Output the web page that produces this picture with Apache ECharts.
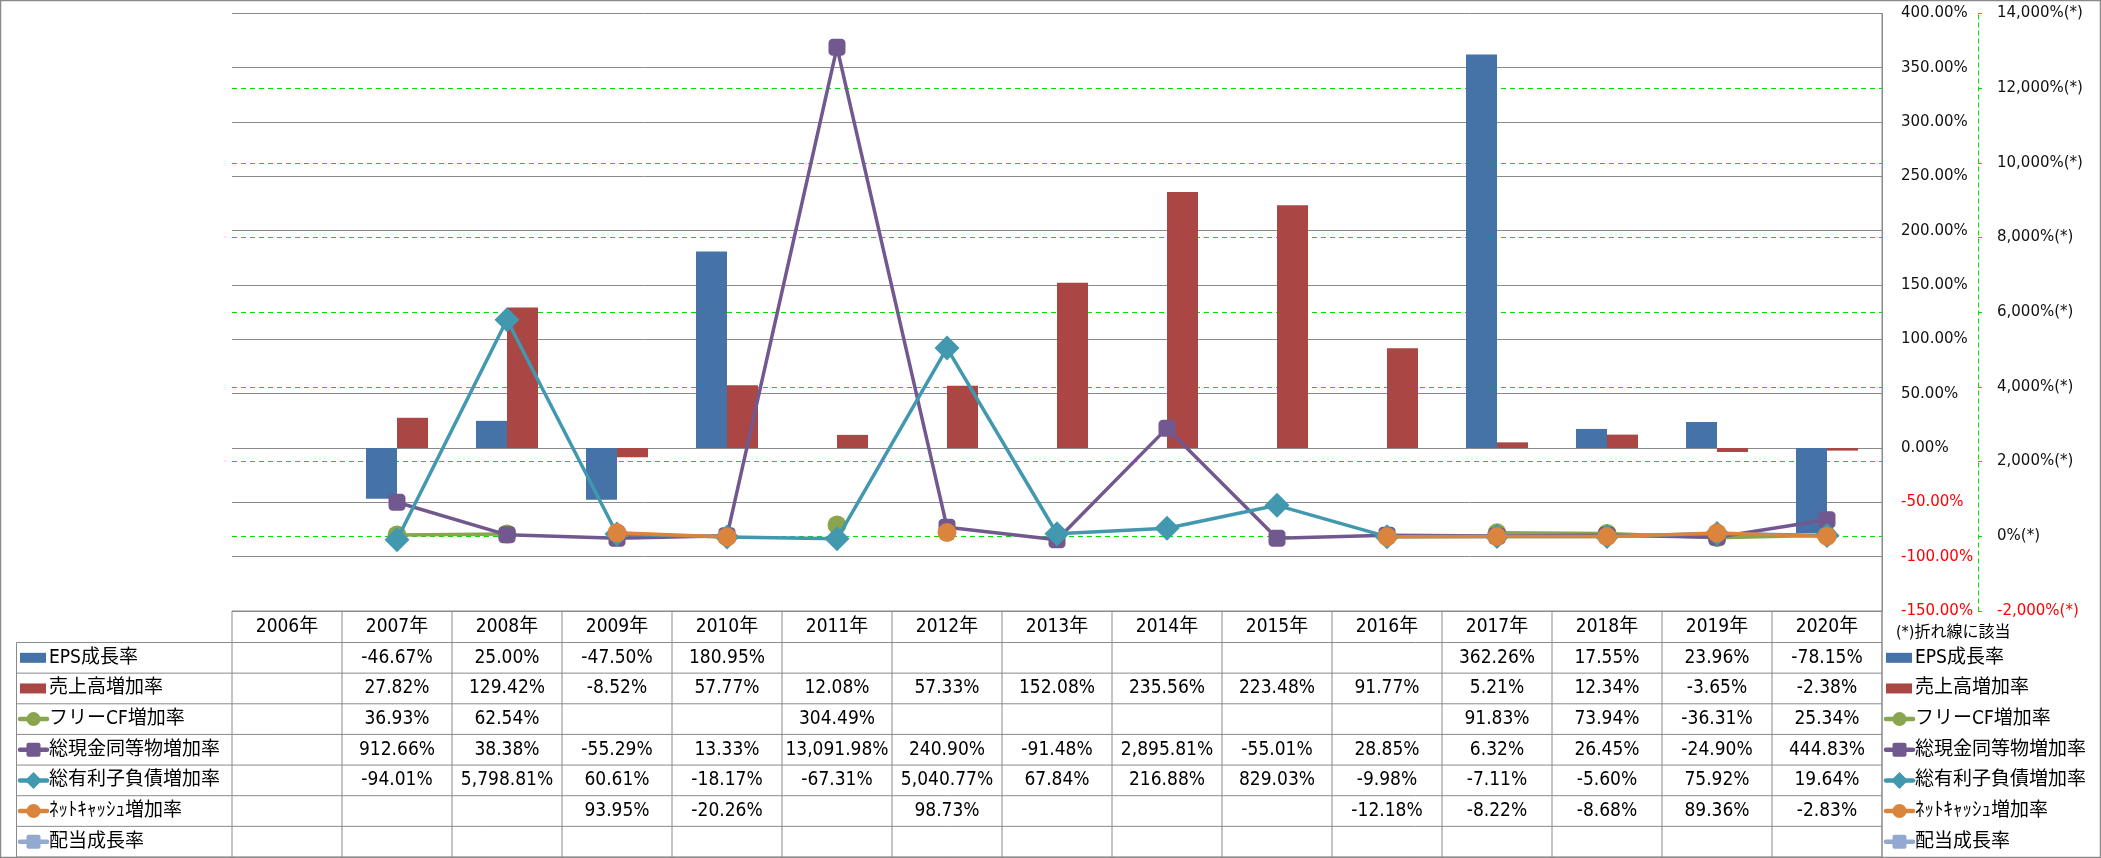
<!DOCTYPE html>
<html><head><meta charset="utf-8">
<script src="https://cdn.jsdelivr.net/npm/echarts@6/dist/echarts.min.js"></script>
<style>html,body{margin:0;padding:0;background:#fff}#c{width:2101px;height:858px}</style>
</head><body><div id="c"></div>
<script>
// ---- data ----
const years = ['2006','2007','2008','2009','2010','2011','2012','2013','2014','2015','2016','2017','2018','2019','2020'];
const eps      = [null,-46.67,25.00,-47.50,180.95,null,null,null,null,null,null,362.26,17.55,23.96,-78.15];
const sales    = [null,27.82,129.42,-8.52,57.77,12.08,57.33,152.08,235.56,223.48,91.77,5.21,12.34,-3.65,-2.38];
const fcf      = [null,36.93,62.54,null,null,304.49,null,null,null,null,null,91.83,73.94,-36.31,25.34];
const cash     = [null,912.66,38.38,-55.29,13.33,13091.98,240.90,-91.48,2895.81,-55.01,28.85,6.32,26.45,-24.90,444.83];
const debt     = [null,-94.01,5798.81,60.61,-18.17,-67.31,5040.77,67.84,216.88,829.03,-9.98,-7.11,-5.60,75.92,19.64];
const netcash  = [null,null,null,93.95,-20.26,null,98.73,null,null,null,-12.18,-8.22,-8.68,89.36,-2.83];
const dividend = [null,null,null,null,null,null,null,null,null,null,null,null,null,null,null];
const names = ['EPS成長率','売上高増加率','フリーCF増加率','総現金同等物増加率','総有利子負債増加率','ﾈｯﾄｷｬｯｼｭ増加率','配当成長率'];
const noteText = '(*)折れ線に該当';

// ---- styles ----
const colors = ['#4572A7','#AA4643','#89A54E','#71588F','#4198AF','#DB843D','#93A9CF'];
const kinds  = ['bar','bar','circle','square','diamond','circle','square'];
const allData = [eps,sales,fcf,cash,debt,netcash,dividend];
const GRID = '#8a8a8a';
const AXISFONT = 'DejaVu Sans';
const TFONT = '"Liberation Sans Narrow","DejaVu Sans Condensed","Noto Sans CJK JP",sans-serif';

const chart = echarts.init(document.getElementById('c'), null, {renderer:'canvas'});

function symOf(k){ return k==='circle'?'circle':(k==='square'?'roundRect':'diamond'); }
function sizeOf(k){ return k==='circle'?19:(k==='square'?17:25); }

const series = allData.map((d,i)=>{
  if (kinds[i]==='bar') return {
    name:names[i], type:'bar', data:d, yAxisIndex:0, barWidth:31, barGap:'0%',
    itemStyle:{color:colors[i]}, z:2
  };
  return {
    name:names[i], type:'line', data:d, yAxisIndex:1, connectNulls:false,
    symbol:symOf(kinds[i]), symbolSize:sizeOf(kinds[i]), showAllSymbol:true,
    lineStyle:{color:colors[i], width:3.5, cap:'round', join:'round'},
    itemStyle:{color:colors[i], borderWidth:0}, z:3+i
  };
});

function fmtPct(v){ return v.toLocaleString('en-US',{minimumFractionDigits:2,maximumFractionDigits:2})+'%'; }

chart.setOption({
  animation:false,
  backgroundColor:'#fff',
  grid:{left:232, right:219, top:13.4, bottom:247, containLabel:false},
  xAxis:{type:'category', data:years, axisLine:{show:false}, axisTick:{show:false}, axisLabel:{show:false}, splitLine:{show:false}},
  yAxis:[
    {type:'value', position:'right', min:-150, max:400, interval:50,
     axisLine:{show:true, lineStyle:{color:GRID, width:1}}, axisTick:{show:false},
     splitLine:{show:true, lineStyle:{color:GRID, width:1}},
     axisLabel:{margin:19, fontFamily:AXISFONT, fontSize:15,
       formatter:v=>v.toFixed(2)+'%',
       color:v=>(v<0?'#ff0000':'#111')}},
    {type:'value', position:'right', offset:96, min:-2000, max:14000, interval:2000,
     axisLine:{show:true, lineStyle:{color:'#00e000', width:1, type:[4,4]}},
     axisTick:{show:true, length:4, lineStyle:{color:'#00e000', width:1}},
     splitLine:{show:true, showMinLine:false, showMaxLine:false, lineStyle:{color:'#00e000', width:1, type:[5,4]}},
     axisLabel:{margin:19, fontFamily:AXISFONT, fontSize:15,
       formatter:v=>v.toLocaleString('en-US')+'%(*)',
       color:v=>(v<0?'#ff0000':'#111')}}
  ],
  series:series
});

// ---- data table and legends (positioned from the axes) ----
const c0 = chart.convertToPixel({xAxisIndex:0}, 0);
const c1 = chart.convertToPixel({xAxisIndex:0}, 1);
const bw = c1 - c0;
const colLeft = c0 - bw/2;
const colRight = colLeft + years.length*bw;
const tTop = chart.convertToPixel({yAxisIndex:0}, -150);
const headH = 31.5;
const rowH = (857 - tTop - headH)/names.length;
const legL = 16.5;

const g = [];
const ls = {stroke:GRID, lineWidth:1};
g.push({type:'rect', shape:{x:0.5,y:0.5,width:2100,height:857}, style:{fill:null, stroke:'#8a8a8a', lineWidth:1.5}, silent:true, z:1});
g.push({type:'line', shape:{x1:colRight,y1:13.4,x2:colRight,y2:857}, style:ls, z:10});
g.push({type:'line', shape:{x1:colLeft,y1:tTop,x2:colRight,y2:tTop}, style:ls, z:10});
for (let r=0;r<=names.length;r++){
  const y = tTop+headH+r*rowH;
  g.push({type:'line', shape:{x1:legL,y1:y,x2:colRight,y2:y}, style:ls, z:10});
}
g.push({type:'line', shape:{x1:legL,y1:tTop+headH,x2:legL,y2:857}, style:ls, z:10});
for (let i=0;i<=years.length;i++){
  const x = colLeft+i*bw;
  g.push({type:'line', shape:{x1:x,y1:tTop,x2:x,y2:857}, style:ls, z:10});
}
years.forEach((y,i)=>{
  g.push({type:'text', x:c0+i*bw, y:tTop+headH/2, style:{text:y+'年', font:'19px '+TFONT, fill:'#000', align:'center', verticalAlign:'middle'}, z:11});
});
allData.forEach((d,r)=>{
  const yc = tTop+headH+(r+0.5)*rowH;
  d.forEach((v,i)=>{
    if (v===null) return;
    g.push({type:'text', x:c0+i*bw, y:yc, style:{text:fmtPct(v), font:'19px '+TFONT, fill:'#000', align:'center', verticalAlign:'middle'}, z:11});
  });
});
function legendSym(x, yc, i){
  const col = colors[i], k = kinds[i], out=[];
  if (k==='bar'){
    out.push({type:'rect', shape:{x:x, y:yc-5, width:26, height:10}, style:{fill:col}, z:11});
    return out;
  }
  out.push({type:'line', shape:{x1:x,y1:yc,x2:x+27,y2:yc}, style:{stroke:col, lineWidth:4.5, lineCap:'round'}, z:11});
  const cx = x+13.5;
  if (k==='circle') out.push({type:'circle', shape:{cx:cx, cy:yc, r:7}, style:{fill:col}, z:12});
  else if (k==='square') out.push({type:'rect', shape:{x:cx-7, y:yc-7, width:14, height:14, r:2}, style:{fill:col}, z:12});
  else out.push({type:'polygon', shape:{points:[[cx,yc-8.5],[cx+8.5,yc],[cx,yc+8.5],[cx-8.5,yc]]}, style:{fill:col}, z:12});
  return out;
}
names.forEach((n,r)=>{
  const yc = tTop+headH+(r+0.5)*rowH;
  g.push(...legendSym(20, yc, r));
  g.push({type:'text', x:49, y:yc, style:{text:n, font:'19px '+TFONT, fill:'#000', align:'left', verticalAlign:'middle'}, z:11});
  g.push(...legendSym(colRight+4, yc, r));
  g.push({type:'text', x:colRight+33, y:yc, style:{text:n, font:'19px '+TFONT, fill:'#000', align:'left', verticalAlign:'middle'}, z:11});
});
g.push({type:'text', x:colRight+14, y:tTop+22, style:{text:noteText, font:'16px '+TFONT, fill:'#000', align:'left', verticalAlign:'middle'}, z:11});

chart.setOption({graphic:{elements:g}});
</script>
</body></html>
